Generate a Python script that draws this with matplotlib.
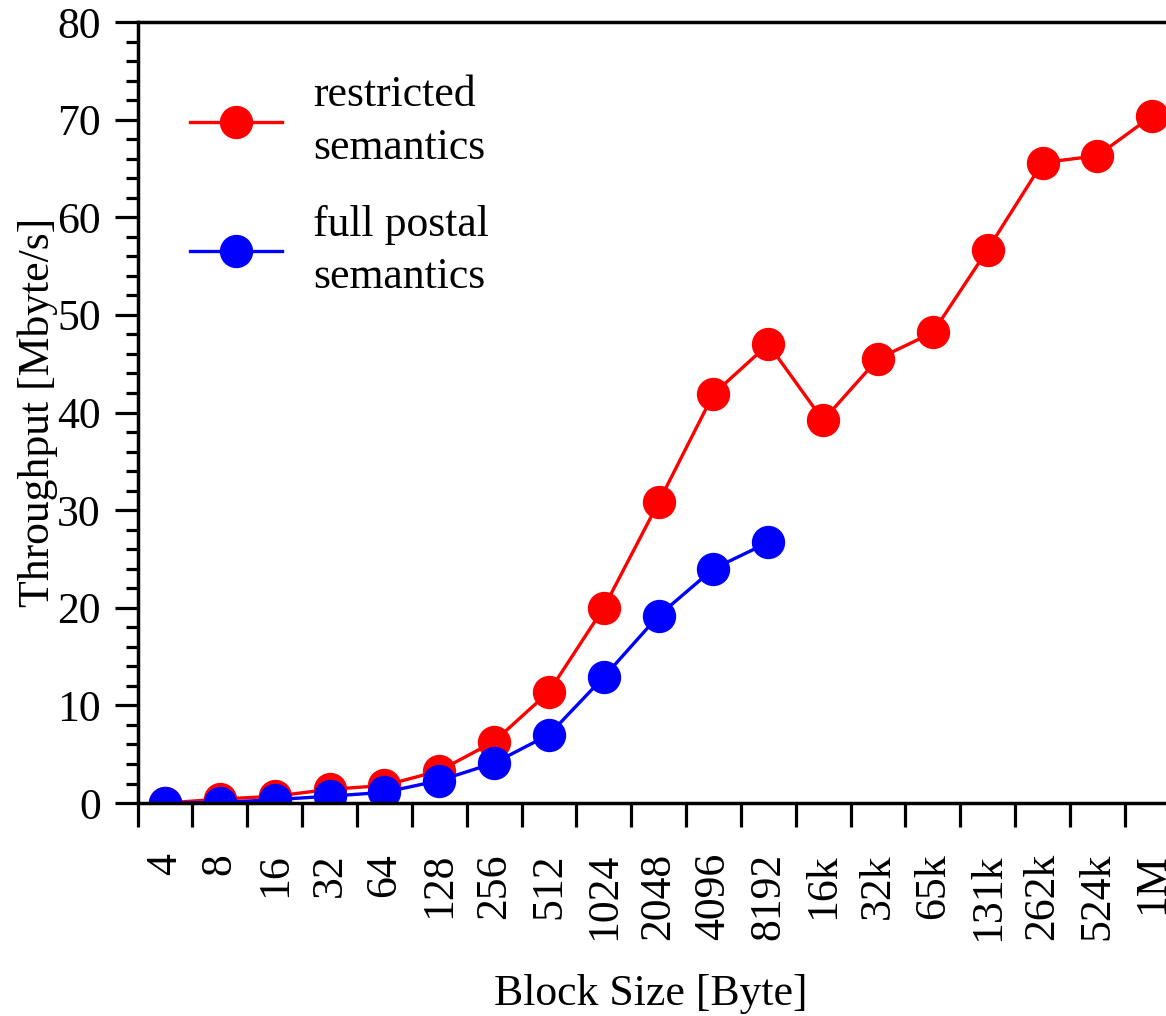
import matplotlib
matplotlib.use('Agg')
import matplotlib.pyplot as plt
from matplotlib.ticker import MultipleLocator, FixedLocator

plt.rcParams['font.family'] = 'serif'
plt.rcParams['font.serif'] = ['Liberation Serif', 'DejaVu Serif']

sizes = ['4', '8', '16', '32', '64', '128', '256', '512', '1024', '2048',
         '4096', '8192', '16k', '32k', '65k', '131k', '262k', '524k', '1M']
restricted = [0.0, 0.4, 0.7, 1.4, 1.8, 3.3, 6.3, 11.4, 20.0, 30.8,
              41.9, 47.0, 39.2, 45.5, 48.2, 56.7, 65.6, 66.3, 70.4]
full_postal = [0.0, 0.05, 0.35, 0.7, 1.1, 2.3, 4.1, 7.0, 12.9, 19.2,
               24.0, 26.7]

fs = 31.5
fig = plt.figure(figsize=(11.66, 10.16), dpi=100)
# axes runs past the right edge, like the original crop
ax = fig.add_axes([0.118, 0.2096, 0.8937, 0.7687])

x_r = range(len(restricted))
x_f = range(len(full_postal))
ax.plot(x_r, restricted, color='red', lw=2.4, marker='o', ms=23,
        label='restricted\nsemantics')
ax.plot(x_f, full_postal, color='blue', lw=2.4, marker='o', ms=23,
        label='full postal\nsemantics')

ax.set_xlim(-0.5, len(sizes) - 0.5)
ax.set_ylim(0, 80)

# labels at category centres, ticks on category boundaries
ax.xaxis.set_major_locator(FixedLocator(list(range(len(sizes)))))
ax.set_xticklabels(sizes, rotation=90, va='top', fontsize=fs)
ax.xaxis.set_minor_locator(FixedLocator([i - 0.5 for i in range(len(sizes) + 1)]))
ax.tick_params(axis='x', which='major', length=0, pad=36)
ax.tick_params(axis='x', which='minor', length=17, width=2.3, direction='out')

ax.yaxis.set_major_locator(MultipleLocator(10))
ax.yaxis.set_minor_locator(MultipleLocator(2))
ax.tick_params(axis='y', which='major', length=16.5, width=2.3, labelsize=fs, pad=10)
ax.tick_params(axis='y', which='minor', length=8.5, width=2.3)
ax.tick_params(top=False, right=False, which='both')

for s in ax.spines.values():
    s.set_linewidth(2.5)

ax.set_ylabel('Throughput [Mbyte/s]', fontsize=fs)
ax.yaxis.set_label_coords(-0.076, 0.5)
ax.set_xlabel('Block Size [Byte]', fontsize=fs)
ax.xaxis.set_label_coords(0.492, -0.219)

leg = ax.legend(loc='upper left', bbox_to_anchor=(0.05, 0.932), frameon=False,
                fontsize=fs, handlelength=2.1, handletextpad=0.72,
                labelspacing=0.85, borderaxespad=0, borderpad=0, numpoints=1)
for t in leg.get_texts():
    t.set_linespacing(1.4)

fig.savefig('out.png', dpi=100)
